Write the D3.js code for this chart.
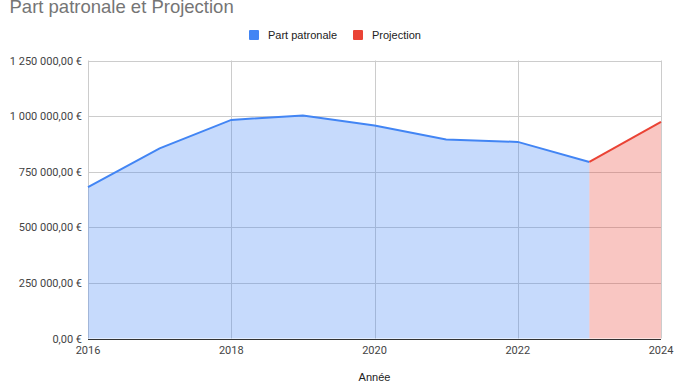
<!DOCTYPE html>
<html>
<head>
<meta charset="utf-8">
<script src="https://cdn.jsdelivr.net/npm/d3@7"></script>
<style>
body { margin: 0; background: #fff; font-family: Roboto, Arial, sans-serif; }
.grid-line { stroke: #cccccc; stroke-width: 1; }
.tick-label { font-size: 11px; fill: #444; }
</style>
</head>
<body>
<script>
const width = 678, height = 381;
const plotLeft = 88, plotRight = 661, plotTop = 60.5, plotBottom = 338.5;

const years = [2016, 2017, 2018, 2019, 2020, 2021, 2022, 2023];
const partPatronale = [681000, 855000, 983000, 1003000, 958000, 895000, 884000, 794000];
const projYears = [2023, 2024];
const projection = [794000, 974000];
const yTicks = [0, 250000, 500000, 750000, 1000000, 1250000];
const xTicks = [2016, 2018, 2020, 2022, 2024];
const seriesNames = ["Part patronale", "Projection"];
const colors = ["#4285f4", "#ea4335"];

const svg = d3.select("body").append("svg")
.attr("width", width)
.attr("height", height);

const scaleX = d3.scaleLinear()
.domain([2016, 2024])
.range([plotLeft, plotRight]);

const scaleY = d3.scaleLinear()
.domain([0, 1250000])
.range([plotBottom, plotTop]);

const fmt = v => {
    const s = d3.format(",.2f")(v);
    return s.replace(/,/g, " ").replace(".", ",") + " €";
};

// grid
svg.append("g").selectAll("line")
.data(yTicks)
.enter()
.append("line")
.attr("class", "grid-line")
.attr("x1", plotLeft)
.attr("x2", plotRight)
.attr("y1", d => Math.round(scaleY(d)) + 0.5)
.attr("y2", d => Math.round(scaleY(d)) + 0.5);

svg.append("g").selectAll("line")
.data(xTicks)
.enter()
.append("line")
.attr("class", "grid-line")
.attr("x1", d => Math.round(scaleX(d)) + 0.5)
.attr("x2", d => Math.round(scaleX(d)) + 0.5)
.attr("y1", plotTop)
.attr("y2", plotBottom);

const area = d3.area()
.x(d => scaleX(d[0]))
.y0(scaleY(0))
.y1(d => scaleY(d[1]));

const line = d3.line()
.x(d => scaleX(d[0]))
.y(d => scaleY(d[1]));

const blueData = years.map((y, i) => [y, partPatronale[i]]);
const redData = projYears.map((y, i) => [y, projection[i]]);

svg.append("path")
.attr("d", area(blueData))
.attr("fill", colors[0])
.attr("fill-opacity", 0.3);

svg.append("path")
.attr("d", area(redData))
.attr("fill", colors[1])
.attr("fill-opacity", 0.3);

svg.append("path")
.attr("d", line(blueData))
.attr("fill", "none")
.attr("stroke", colors[0])
.attr("stroke-width", 2);

svg.append("path")
.attr("d", line(redData))
.attr("fill", "none")
.attr("stroke", colors[1])
.attr("stroke-width", 2);

// baseline
svg.append("line")
.attr("x1", plotLeft)
.attr("x2", plotRight)
.attr("y1", Math.round(scaleY(0)) + 0.5)
.attr("y2", Math.round(scaleY(0)) + 0.5)
.attr("stroke", "#333")
.attr("stroke-width", 1);

// y labels
svg.append("g").selectAll("text")
.data(yTicks)
.enter()
.append("text")
.attr("class", "tick-label")
.attr("x", plotLeft - 6)
.attr("y", d => scaleY(d) + 4)
.attr("text-anchor", "end")
.text(fmt);

// x labels
svg.append("g").selectAll("text")
.data(xTicks)
.enter()
.append("text")
.attr("class", "tick-label")
.attr("x", d => scaleX(d))
.attr("y", plotBottom + 15)
.attr("text-anchor", "middle")
.text(d => d);

svg.append("text")
.attr("x", scaleX(2020))
.attr("y", 381)
.attr("text-anchor", "middle")
.attr("font-family", "'Liberation Sans', Arial, sans-serif")
.attr("font-size", 11)
.attr("fill", "#222")
.text("Année");

// title
svg.append("text")
.attr("x", 9.5)
.attr("y", 12.5)
.attr("font-family", "'Liberation Sans', Arial, sans-serif")
.attr("font-size", 18.5)
.attr("fill", "#757575")
.text("Part patronale et Projection");

// legend
const legendX = [249, 353];
const lg = svg.append("g").selectAll("g")
.data(seriesNames)
.enter()
.append("g")
.attr("transform", (d, i) => `translate(${legendX[i]}, 30)`);

lg.append("rect")
.attr("width", 10)
.attr("height", 10)
.attr("rx", 1)
.attr("fill", (d, i) => colors[i]);

lg.append("text")
.attr("x", 19)
.attr("y", 9)
.attr("font-family", "'Liberation Sans', Arial, sans-serif")
.attr("font-size", 11)
.attr("fill", "#222")
.text(d => d);
</script>
</body>
</html>
